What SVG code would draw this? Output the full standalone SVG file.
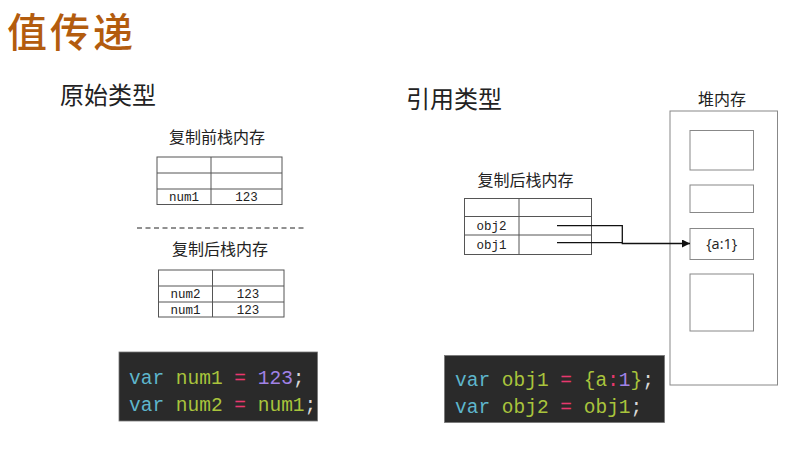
<svg xmlns="http://www.w3.org/2000/svg" width="802" height="451" viewBox="0 0 802 451">
<defs>
<style>
.cjk{font-family:"Noto Sans CJK SC","Noto Sans",sans-serif;fill:#222}
.lbl{font-size:16px}
.tbl{fill:#fff;stroke:#555;stroke-width:1}
.cell{font-family:"Liberation Mono",monospace;font-size:12.5px;fill:#222;text-anchor:middle}
.code{font-family:"Liberation Mono",monospace;font-size:19.5px}
.kw{fill:#5eb6cc}.id{fill:#a9c43c}.op{fill:#e8386e}.num{fill:#a182e6}.pun{fill:#d8d8d8}
.heap{fill:#fff;stroke:#888;stroke-width:1}
.conn{fill:none;stroke:#111;stroke-width:1.3}
</style>
<marker id="arr" viewBox="0 0 10 10" refX="10" refY="5" markerWidth="8" markerHeight="8" markerUnits="userSpaceOnUse" orient="auto">
<path d="M0,0 L10,5 L0,10 z" fill="#111"/>
</marker>
</defs>
<rect width="802" height="451" fill="#fff"/>
<text id="title" class="cjk" x="7" y="47" font-size="40" font-weight="500" textLength="126" lengthAdjust="spacing" style="fill:#b35c0e">值传递</text>
<text id="h-prim" class="cjk" x="60" y="104" font-size="24">原始类型</text>
<text id="h-ref" class="cjk" x="406" y="108" font-size="24">引用类型</text>

<g id="table-before">
<text class="cjk lbl" x="217" y="143" text-anchor="middle">复制前栈内存</text>
<rect class="tbl" x="157" y="157" width="125" height="47.5"/>
<path d="M157 173H282M157 189H282M211 157V204.5" stroke="#555" fill="none"/>
<text class="cell" x="184" y="201">num1</text>
<text class="cell" x="246.5" y="201">123</text>
</g>

<line id="divider" x1="137" y1="228" x2="305" y2="228" stroke="#222" stroke-width="1" stroke-dasharray="5,3.5"/>

<g id="table-after">
<text class="cjk lbl" x="220" y="255" text-anchor="middle">复制后栈内存</text>
<rect class="tbl" x="158.5" y="270" width="125.5" height="47"/>
<path d="M158.5 286H284M158.5 302H284M212.5 270V317" stroke="#555" fill="none"/>
<text class="cell" x="185.5" y="298">num2</text>
<text class="cell" x="248" y="298">123</text>
<text class="cell" x="185.5" y="313.5">num1</text>
<text class="cell" x="248" y="313.5">123</text>
</g>

<g id="code-prim">
<rect x="119" y="352" width="198.5" height="69" fill="#2a2a2a" stroke="#777" stroke-width="0.8"/>
<text class="code" x="129" y="384" xml:space="preserve"><tspan class="kw">var</tspan> <tspan class="id">num1</tspan> <tspan class="op">=</tspan> <tspan class="num">123</tspan><tspan class="pun">;</tspan></text>
<text class="code" x="129" y="411" xml:space="preserve"><tspan class="kw">var</tspan> <tspan class="id">num2</tspan> <tspan class="op">=</tspan> <tspan class="id">num1</tspan><tspan class="pun">;</tspan></text>
</g>

<g id="table-ref">
<text class="cjk lbl" x="525.5" y="185.5" text-anchor="middle">复制后栈内存</text>
<rect class="tbl" x="464.5" y="198.5" width="127" height="56"/>
<path d="M464.5 216.5H591.5M464.5 235H591.5M519 198.5V254.5" stroke="#555" fill="none"/>
<text class="cell" x="491.5" y="230">obj2</text>
<text class="cell" x="491.5" y="249">obj1</text>
</g>

<g id="code-ref">
<rect x="444.5" y="355.5" width="220" height="67" fill="#2a2a2a" stroke="#777" stroke-width="0.8"/>
<text class="code" x="455" y="386" xml:space="preserve"><tspan class="kw">var</tspan> <tspan class="id">obj1</tspan> <tspan class="op">=</tspan> <tspan class="id">{a</tspan><tspan class="op">:</tspan><tspan class="num">1</tspan><tspan class="id">}</tspan><tspan class="pun">;</tspan></text>
<text class="code" x="455" y="413" xml:space="preserve"><tspan class="kw">var</tspan> <tspan class="id">obj2</tspan> <tspan class="op">=</tspan> <tspan class="id">obj1</tspan><tspan class="pun">;</tspan></text>
</g>

<g id="heap">
<text class="cjk lbl" x="722" y="104.5" text-anchor="middle">堆内存</text>
<rect class="heap" x="670" y="111" width="107.5" height="274"/>
<rect class="heap" x="690" y="130.5" width="63.5" height="39.5"/>
<rect class="heap" x="690" y="185" width="63.5" height="27.5"/>
<rect id="heap-obj" class="heap" x="690" y="228.5" width="63.5" height="31"/>
<text x="721.7" y="249" text-anchor="middle" font-family="'Open Sans','Liberation Sans',sans-serif" font-size="14.5" fill="#222">{a:1}</text>
<rect class="heap" x="690" y="274" width="63.5" height="57"/>
</g>

<g id="connectors">
<path class="conn" d="M557 225.7H622.3V243.5H690" marker-end="url(#arr)"/>
<path class="conn" d="M557 242.7H622.3"/>
</g>
</svg>
